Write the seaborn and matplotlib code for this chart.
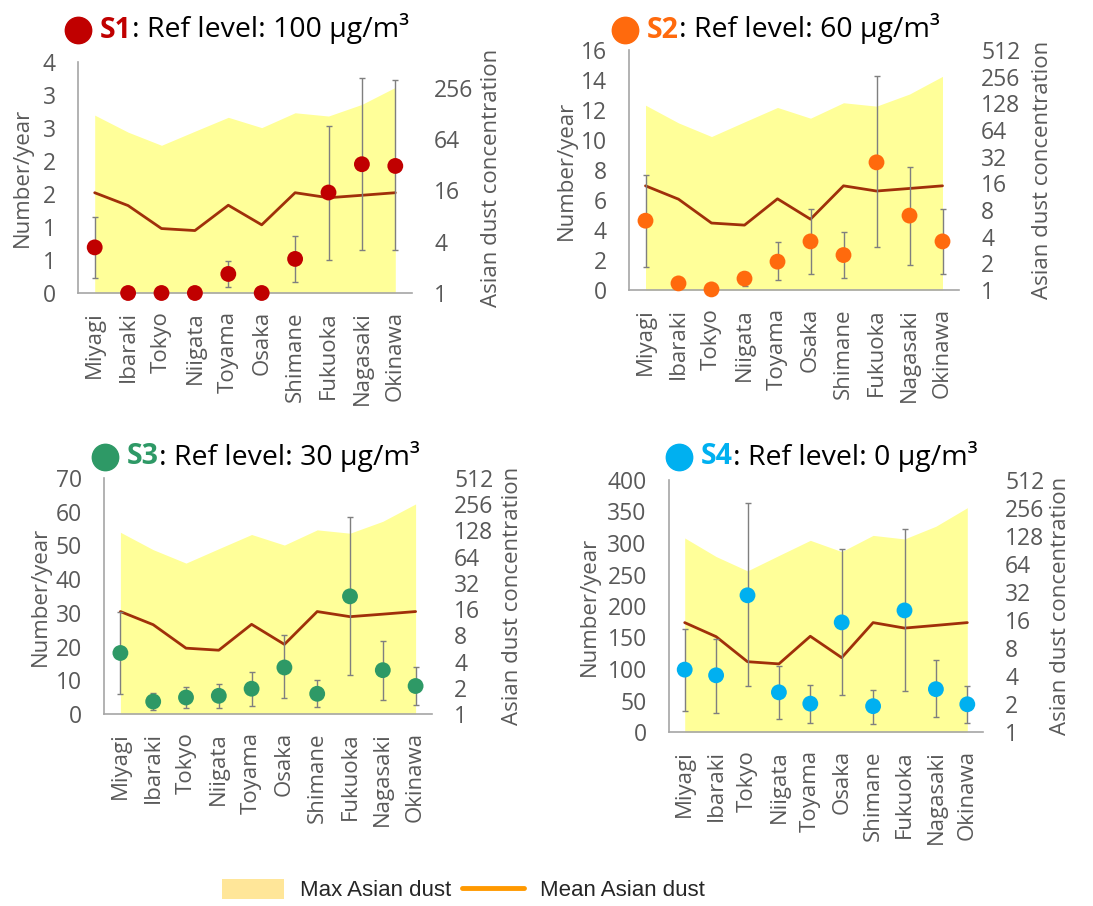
import matplotlib
matplotlib.use("Agg")
import matplotlib.pyplot as plt
import numpy as np
import pandas as pd
import seaborn as sns
from matplotlib.patches import Patch
from matplotlib.lines import Line2D
from matplotlib.ticker import FormatStrFormatter, NullLocator

# data
prefectures = ["Miyagi", "Ibaraki", "Tokyo", "Niigata", "Toyama",
               "Osaka", "Shimane", "Fukuoka", "Nagasaki", "Okinawa"]

# Asian dust concentration (right axis, log2)
max_dust = [122, 77, 54, 79, 115, 87, 130, 119, 163, 258]
mean_dust = [15.0, 10.6, 5.7, 5.4, 10.7, 6.3, 15.0, 13.1, 14.0, 15.0]

# number/year, with lower / upper error limits
s1_val = [0.79, 0.0, 0.0, 0.0, 0.33, 0.0, 0.59, 1.74, 2.23, 2.20]
s1_lo = [0.26, 0.0, 0.0, 0.0, 0.10, 0.0, 0.19, 0.58, 0.75, 0.75]
s1_hi = [1.31, 0.0, 0.0, 0.0, 0.55, 0.0, 0.99, 2.90, 3.73, 3.69]

s2_val = [4.62, 0.44, 0.04, 0.76, 1.89, 3.24, 2.33, 8.51, 4.96, 3.24]
s2_lo = [1.56, 0.44, 0.04, 0.27, 0.67, 1.07, 0.82, 2.89, 1.67, 1.07]
s2_hi = [7.67, 0.44, 0.04, 1.22, 3.18, 5.40, 3.89, 14.27, 8.20, 5.38]

s3_val = [18.1, 3.7, 4.9, 5.4, 7.5, 13.8, 6.0, 34.9, 13.0, 8.3]
s3_lo = [5.9, 1.3, 1.7, 1.7, 2.5, 4.6, 2.0, 11.6, 4.3, 2.8]
s3_hi = [30.4, 6.2, 8.0, 9.0, 12.6, 23.3, 10.2, 58.5, 21.8, 13.8]

s4_val = [99, 90, 217, 63, 45, 174, 41, 193, 68, 44]
s4_lo = [33, 30, 73, 21, 15, 59, 13, 65, 24, 15]
s4_hi = [163, 148, 363, 104, 75, 291, 67, 322, 114, 73]

scenarios = ["S1", "S2", "S3", "S4"]
ref_levels = [100, 60, 30, 0]
point_colors = ["#C00000", "#FF6A0D", "#2E9966", "#00B0F0"]
left_max = [4, 16, 70, 400]
left_step = [4 / 7, 2, 10, 50]
right_ticks = [[1, 4, 16, 64, 256],
               [1, 2, 4, 8, 16, 32, 64, 128, 256, 512],
               [1, 2, 4, 8, 16, 32, 64, 128, 256, 512],
               [1, 2, 4, 8, 16, 32, 64, 128, 256, 512]]
values = [(s1_val, s1_lo, s1_hi), (s2_val, s2_lo, s2_hi),
          (s3_val, s3_lo, s3_hi), (s4_val, s4_lo, s4_hi)]

# layout (pixels in a 1093x906 figure): left, top, right, bottom of axes
W, H = 1093, 906
axes_px = [(78, 62, 412, 293), (629, 50, 959, 290),
           (104, 478, 432, 714), (669, 480, 983, 732)]
title_px = [(78, 30), (625, 30), (105, 457), (679, 457)]
ylabel_px = [22, 566, 40, 589]
rlabel_px = [491, 1042, 512, 1060]

sns.set_theme(style="white")
plt.rcParams["font.family"] = ["Open Sans", "DejaVu Sans"]

GRAY = "#595959"
SPINE = "#A6A6A6"
FILL = "#FFFF99"
LINE = "#A0300A"
TICK_FS = 16.5
XTICK_FS = 16
LAB_FS = 16

fig = plt.figure(figsize=(W / 100, H / 100), dpi=100, facecolor="white")

for i, name in enumerate(scenarios):
    l, t, r, b = axes_px[i]
    ax = fig.add_axes([l / W, 1 - b / H, (r - l) / W, (b - t) / H])
    ax2 = ax.twinx()
    # points on top of the dust layer
    ax.set_zorder(ax2.get_zorder() + 1)
    ax.patch.set_visible(False)

    x = np.arange(len(prefectures))
    df = pd.DataFrame({"x": x, "max": max_dust, "mean": mean_dust})

    # right axis: dust concentration
    ax2.fill_between(df["x"], 1, df["max"], color=FILL, lw=0)
    sns.lineplot(data=df, x="x", y="mean", ax=ax2, color=LINE, lw=2)
    ax2.set_yscale("log", base=2)
    ax2.set_ylim(1, 512)
    ax2.set_yticks(right_ticks[i], labels=[str(v) for v in right_ticks[i]])
    ax2.yaxis.set_minor_locator(NullLocator())
    ax2.tick_params(axis="y", length=0, pad=16, labelsize=TICK_FS, labelcolor=GRAY)
    ax2.set_ylabel("")
    ax2.set_xlabel("")
    for s in ax2.spines.values():
        s.set_visible(False)

    # left axis: number/year
    val, lo, hi = [np.array(a, dtype=float) for a in values[i]]
    ax.errorbar(x, val, yerr=[val - lo, hi - val], fmt="none", ecolor="#7F7F7F",
                elinewidth=1, capsize=2.5, capthick=1, zorder=2)
    sns.scatterplot(x=x, y=val, ax=ax, color=point_colors[i], s=130,
                    edgecolor="none", zorder=3, clip_on=False)
    ax.set_xlim(-0.5, len(prefectures) - 0.5)
    ax.set_ylim(0, left_max[i])
    ax.set_yticks(np.arange(0, left_max[i] + 1e-6, left_step[i]))
    ax.yaxis.set_major_formatter(FormatStrFormatter("%.0f"))
    ax.set_xticks(x, labels=prefectures, rotation=90)
    ax.tick_params(axis="both", length=0, labelcolor=GRAY)
    ax.tick_params(axis="y", pad=16, labelsize=TICK_FS)
    ax.tick_params(axis="x", pad=13, labelsize=XTICK_FS)
    ax.set_ylabel("")
    for side in ["top", "right"]:
        ax.spines[side].set_visible(False)
    for side in ["left", "bottom"]:
        ax.spines[side].set_color(SPINE)
        ax.spines[side].set_linewidth(1.2)

    # axis labels
    fig.text(ylabel_px[i] / W, 1 - (t + b) / 2 / H, "Number/year", rotation=90,
             ha="center", va="center", fontsize=LAB_FS, color=GRAY)
    fig.text(rlabel_px[i] / W, 1 - (t + b) / 2 / H, "Asian dust concentration",
             rotation=90, ha="center", va="center", fontsize=LAB_FS, color=GRAY)

    # title: dot + coloured scenario name + reference level
    cx, cy = title_px[i]
    fig.lines.append(Line2D([cx / W], [1 - cy / H], marker="o", markersize=19,
                            color=point_colors[i], transform=fig.transFigure))
    t1 = fig.text((cx + 22) / W, 1 - cy / H, name, color=point_colors[i],
                  fontsize=20.5, fontweight="bold", ha="left", va="center")
    ax.annotate(f": Ref level: {ref_levels[i]} μg/m³", xy=(1, 0), xycoords=t1,
                ha="left", va="bottom", fontsize=20.5, color="black",
                annotation_clip=False)

# shared legend
handles = [Patch(facecolor="#FFE699", edgecolor="none"),
           Line2D([0], [0], color="#FF9900", lw=3.5)]
fig.legend(handles, ["Max Asian dust", "Mean Asian dust"], loc="center",
           bbox_to_anchor=(0.424, 1 - 890 / H), ncol=2, frameon=False,
           prop={"family": ["Liberation Sans Narrow", "Liberation Sans"], "size": 16},
           handlelength=2.8, handleheight=1.0, columnspacing=0.5, handletextpad=0.7)

fig.savefig("out.png", dpi=100, facecolor="white")
